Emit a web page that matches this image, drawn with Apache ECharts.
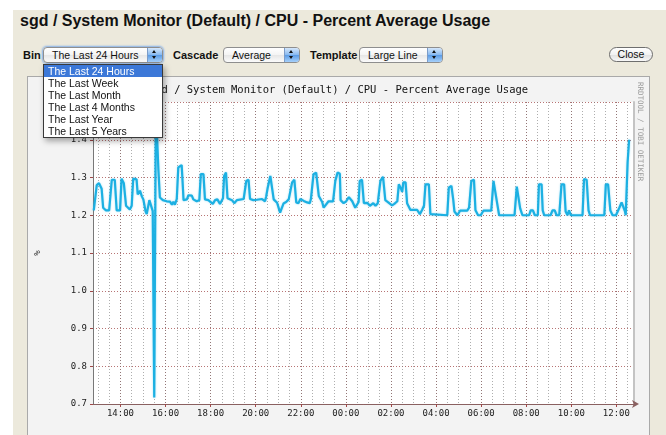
<!DOCTYPE html>
<html>
<head>
<meta charset="utf-8">
<script src="https://cdn.jsdelivr.net/npm/echarts@6/dist/echarts.min.js"></script>
<style>
html,body{margin:0;padding:0;width:666px;height:435px;overflow:hidden;background:#fff;font-family:"Liberation Sans",Arial,Helvetica,sans-serif;}
#panel{position:absolute;left:13px;top:10px;width:660px;height:440px;background:#ece9dc;}
#ptitle{position:absolute;left:20px;top:13px;font-size:16px;line-height:16px;font-weight:bold;color:#111;white-space:nowrap;}
.lbl{position:absolute;font-size:11px;font-weight:bold;line-height:16px;top:47px;color:#111;}
.sel{position:absolute;top:47px;height:16px;box-sizing:border-box;border:1px solid #8e8e8e;border-radius:4px;background:linear-gradient(#ffffff,#f4f4f4 50%,#e6e6e6 51%,#fbfbfb);}
.sel .txt{position:absolute;left:8px;top:0;line-height:14px;font-size:10.5px;color:#111;white-space:nowrap;}
.sel .arr{position:absolute;right:0;top:0;width:15px;height:14px;border-radius:0 3px 3px 0;border-left:1px solid #7b9cc9;box-sizing:border-box;background:linear-gradient(#d5e7fb,#86b8f0 50%,#5a9be6 51%,#a6d0fa);}
.up{position:absolute;left:4px;top:2px;width:0;height:0;border-left:2.5px solid transparent;border-right:2.5px solid transparent;border-bottom:3.5px solid #111;}
.dn{position:absolute;left:4px;top:8px;width:0;height:0;border-left:2.5px solid transparent;border-right:2.5px solid transparent;border-top:3.5px solid #111;}
#drop{position:absolute;left:43px;top:64px;width:120px;height:74px;box-sizing:border-box;border:1px solid #3a3a3a;background:#fff;box-shadow:2px 3px 6px rgba(0,0,0,0.35);z-index:10;}
#drop div{font-size:10.5px;line-height:12px;padding-left:4px;color:#111;white-space:nowrap;}
#drop div.hi{background:#3c78d8;color:#fff;}
#close{position:absolute;left:609px;top:47px;width:44px;height:15px;box-sizing:border-box;border:1px solid #6e6e6e;border-radius:8px;background:linear-gradient(#ffffff,#f2f2f2 50%,#e0e0e0 51%,#f8f8f8);font-size:10.5px;line-height:13px;text-align:center;color:#111;}
#box{position:absolute;left:27px;top:76px;width:623px;height:370px;box-sizing:border-box;border:1px solid #a9a9a9;background:#f3f3f3;}
#chart{position:absolute;left:28px;top:77px;width:621px;height:358px;}
</style>
</head>
<body>
<div id="panel"></div>
<div id="ptitle">sgd / System Monitor (Default) / CPU - Percent Average Usage</div>
<div class="lbl" style="left:23px;">Bin</div>
<div class="sel" style="left:43px;width:120px;box-shadow:0 0 2px 1px #82aee8;"><span class="txt">The Last 24 Hours</span><span class="arr"><i class="up"></i><i class="dn"></i></span></div>
<div class="lbl" style="left:173px;">Cascade</div>
<div class="sel" style="left:223px;width:77px;"><span class="txt">Average</span><span class="arr"><i class="up"></i><i class="dn"></i></span></div>
<div class="lbl" style="left:310px;">Template</div>
<div class="sel" style="left:359px;width:84px;"><span class="txt">Large Line</span><span class="arr"><i class="up"></i><i class="dn"></i></span></div>
<div id="close">Close</div>
<div id="box"></div>
<div id="chart"></div>
<div id="drop">
<div class="hi">The Last 24 Hours</div>
<div>The Last Week</div>
<div>The Last Month</div>
<div>The Last 4 Months</div>
<div>The Last Year</div>
<div>The Last 5 Years</div>
</div>
<script>
// ---- data (minutes after midnight of the first day; next day = +1440) ----
const chartTitle = 'sgd / System Monitor (Default) / CPU - Percent Average Usage';
const yAxisName = '%';
const watermark = 'RRDTOOL / TOBI OETIKER';

const timeMinutes = [
  769,777,783,790,794,801,810,817,825,830,839,843,849,855,865,870,874,883,886,892,
  897,901,907,910,917,921,926,928,930,934,937,941,945,953,963,972,977,981,985,990,
  994,1003,1006,1008,1017,1021,1030,1034,1043,1050,1054,1061,1065,1074,1079,1086,1092,1098,1105,1113,
  1116,1121,1125,1130,1137,1143,1150,1154,1168,1175,1181,1185,1194,1203,1217,1225,1228,1232,1239,1243,
  1248,1257,1265,1274,1281,1288,1297,1303,1308,1314,1319,1328,1337,1344,1347,1354,1361,1368,1377,1381,
  1385,1394,1406,1412,1418,1424,1426,1434,1441,1448,1457,1465,1470,1474,1477,1483,1488,1497,1504,1513,
  1519,1525,1532,1539,1545,1552,1557,1563,1569,1577,1581,1587,1590,1593,1599,1603,1612,1630,1637,1643,
  1648,1652,1661,1665,1710,1714,1721,1726,1729,1737,1744,1763,1768,1774,1781,1785,1792,1799,1806,1827,
  1833,1837,1843,1848,1889,1895,1899,1904,1910,1928,1932,1938,1943,1951,1954,1961,1964,1968,1985,1990,
  1996,2001,2008,2014,2021,2025,2030,2034,2039,2070,2074,2081,2086,2090,2128,2132,2138,2144,2150,2159,
  2168,2174,2179,2183,2185,2190,2194
];
const cpuPercent = [
  1.213,1.280,1.285,1.270,1.220,1.213,1.213,1.294,1.294,1.213,1.213,1.297,1.285,1.225,1.215,1.225,1.297,1.295,1.255,1.265,
  1.250,1.242,1.210,1.203,1.240,1.238,1.211,0.965,0.717,1.430,1.420,1.322,1.247,1.240,1.237,1.236,1.228,1.236,1.228,1.243,
  1.327,1.333,1.278,1.240,1.242,1.253,1.252,1.242,1.237,1.240,1.309,1.309,1.242,1.240,1.242,1.230,1.240,1.242,1.230,1.245,
  1.304,1.313,1.245,1.245,1.240,1.232,1.240,1.243,1.243,1.291,1.294,1.243,1.240,1.241,1.243,1.237,1.250,1.273,1.304,1.300,
  1.242,1.233,1.207,1.231,1.235,1.242,1.287,1.294,1.234,1.232,1.243,1.238,1.234,1.232,1.243,1.309,1.313,1.251,1.235,1.220,
  1.222,1.237,1.237,1.291,1.313,1.310,1.240,1.232,1.237,1.248,1.237,1.220,1.217,1.235,1.291,1.294,1.232,1.233,1.225,1.232,
  1.225,1.232,1.291,1.302,1.240,1.235,1.240,1.226,1.230,1.237,1.282,1.270,1.262,1.287,1.287,1.232,1.214,1.214,1.203,1.214,
  1.225,1.282,1.282,1.203,1.200,1.273,1.278,1.240,1.210,1.200,1.212,1.212,1.220,1.291,1.294,1.213,1.200,1.200,1.212,1.212,
  1.291,1.294,1.230,1.200,1.200,1.276,1.278,1.218,1.200,1.200,1.213,1.213,1.200,1.200,1.282,1.282,1.213,1.200,1.200,1.213,
  1.213,1.200,1.200,1.282,1.282,1.210,1.200,1.213,1.200,1.200,1.296,1.294,1.213,1.200,1.200,1.282,1.282,1.213,1.200,1.200,
  1.220,1.234,1.232,1.210,1.200,1.340,1.400
];

// axis range and ticks
const xStart = 767;   // 12:47
const xEnd = 2207;    // 12:47 next day
const majorTickMinutes = [840,960,1080,1200,1320,1440,1560,1680,1800,1920,2040,2160];
const majorTickLabels = ['14:00','16:00','18:00','20:00','22:00','00:00','02:00','04:00','06:00','08:00','10:00','12:00'];
const minorTickMinutes = [];
for (let m = 780; m <= 2190; m += 30) minorTickMinutes.push(m);
const yMin = 0.7, yMax = 1.5, yStep = 0.1;
const yTickLabels = ['0.7','0.8','0.9','1.0','1.1','1.2','1.3','1.4','1.5'];

const seriesData = timeMinutes.map((t, i) => [t, cpuPercent[i]]);

const mono = 'DejaVu Sans Mono';
const majorGrid = {color:'rgba(140,30,30,0.62)', type:[1,2], width:1};
const minorGrid = {color:'rgba(120,120,120,0.6)', type:[1,2], width:1};

const chart = echarts.init(document.getElementById('chart'), null, {renderer:'canvas'});
chart.setOption({
  animation:false,
  backgroundColor:'transparent',
  title:{text:chartTitle,left:'center',top:3,textStyle:{fontFamily:mono,fontSize:10.5,fontWeight:'normal',color:'#111'}},
  grid:{left:65,top:25,width:541,height:302,show:true,backgroundColor:'#ffffff',borderWidth:0,
        containLabel:false,outerBoundsMode:'none'},
  xAxis:[
    {type:'value',min:xStart,max:xEnd,position:'bottom',
     axisLine:{show:true,onZero:false,lineStyle:{color:'#8a6060',width:1},symbol:['none','arrow'],symbolSize:[6,7],symbolOffset:[0,5]},
     axisTick:{show:true,customValues:majorTickMinutes,length:3,lineStyle:{color:'#a04848'}},
     axisLabel:{show:true,customValues:majorTickMinutes,fontFamily:mono,fontSize:9,color:'#222',margin:5,
       formatter:(v)=>{const i=majorTickMinutes.indexOf(v);return i>=0?majorTickLabels[i]:'';}},
     splitLine:{show:true,lineStyle:majorGrid}},
    {type:'value',min:xStart,max:xEnd,position:'top',
     axisLine:{show:false},
     axisTick:{show:false,customValues:minorTickMinutes},
     axisLabel:{show:false,customValues:minorTickMinutes},
     splitLine:{show:true,lineStyle:minorGrid}}
  ],
  yAxis:[
    {type:'value',min:yMin,max:yMax,interval:yStep,
     name:yAxisName,nameLocation:'middle',nameGap:51,nameRotate:90,
     nameTextStyle:{fontFamily:mono,fontSize:9,color:'#333'},
     axisLine:{show:true,lineStyle:{color:'#777',width:1}},
     axisTick:{show:true,length:3,lineStyle:{color:'#a04848'}},
     axisLabel:{fontFamily:mono,fontSize:9,color:'#222',margin:6,
       formatter:(v)=>{const i=Math.round((v-yMin)/yStep);return yTickLabels[i]||'';}},
     splitLine:{show:true,lineStyle:majorGrid}},
    {type:'value',min:yMin,max:yMax,position:'right',
     axisLine:{show:true,lineStyle:{color:'#c4c4c4',width:2}},
     axisTick:{show:false},axisLabel:{show:false},splitLine:{show:false}}
  ],
  graphic:[
    {type:'text',x:612,y:5,rotation:-Math.PI/2,
     style:{text:watermark,fontFamily:mono,fontSize:7.5,fill:'#9a9a9a',textAlign:'left',textVerticalAlign:'middle'}}
  ],
  series:[
    {type:'line',xAxisIndex:0,yAxisIndex:0,data:seriesData,showSymbol:false,z:5,
     lineStyle:{color:'#1cb0e2',width:2.2,shadowColor:'rgba(40,180,230,0.45)',shadowBlur:2},itemStyle:{color:'#1cb0e2'}}
  ]
});
</script>
</body>
</html>
